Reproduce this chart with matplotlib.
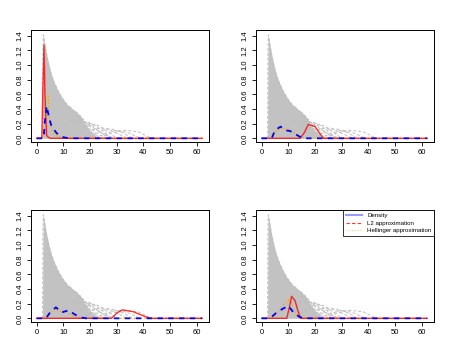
import matplotlib.pyplot as plt
from matplotlib.lines import Line2D

plt.rcParams["font.family"] = ["Liberation Sans", "DejaVu Sans"]

# gray family of basis densities (same in every panel)
env_x = [2.2, 2.35, 2.5, 2.8, 3.2, 3.75, 4.7, 5.5, 6.5, 8.0, 9.4, 11.0, 12.5, 14.5, 16.2, 18.0, 20.0, 22.0, 24.0]
env_y = [0.0, 1.25, 1.41, 1.34, 1.25, 1.14, 0.98, 0.87, 0.77, 0.65, 0.56, 0.48, 0.42, 0.36, 0.31, 0.20, 0.10, 0.03, 0.0]

tail_x = [
    [12.5, 17.0, 21.0, 24.0],
    [14.5, 18.0, 22.0, 26.0],
    [12.0, 16.0, 20.0, 23.0, 27.0],
    [14.0, 18.0, 21.5, 25.0, 28.0],
    [16.0, 20.0, 23.5, 27.0, 30.0],
    [15.0, 19.0, 24.0, 29.0],
    [18.0, 22.0, 26.0, 30.0, 34.0],
    [20.0, 24.0, 28.0, 32.0, 36.0],
    [22.0, 26.0, 30.0, 34.0, 39.0],
    [24.0, 28.0, 33.0, 38.0, 43.0],
]
tail_y = [
    [0.43, 0.26, 0.08, 0.0],
    [0.37, 0.24, 0.08, 0.0],
    [0.24, 0.23, 0.21, 0.10, 0.0],
    [0.20, 0.22, 0.19, 0.09, 0.0],
    [0.10, 0.20, 0.17, 0.08, 0.0],
    [0.30, 0.20, 0.08, 0.0],
    [0.02, 0.13, 0.14, 0.07, 0.0],
    [0.0, 0.11, 0.13, 0.08, 0.0],
    [0.0, 0.07, 0.11, 0.08, 0.0],
    [0.0, 0.07, 0.11, 0.09, 0.0],
]

# density (blue), L2 (red), Hellinger (orange) for each panel
blue_x = [
    [0, 2.6, 3.0, 3.75, 4.7, 5.6, 7.5, 9.4, 12.0, 62],
    [0, 3.75, 5.0, 7.1, 8.7, 10.6, 12.5, 14.4, 16.2, 62],
    [0, 3.5, 5.0, 7.2, 9.4, 11.9, 14.4, 16.9, 18.5, 62],
    [0, 2.5, 3.75, 5.6, 7.9, 10.0, 11.9, 14.1, 16.0, 62],
]
blue_y = [
    [0, 0, 0.20, 0.44, 0.27, 0.16, 0.07, 0.02, 0, 0],
    [0, 0, 0.11, 0.16, 0.11, 0.10, 0.06, 0.02, 0, 0],
    [0, 0, 0.08, 0.15, 0.08, 0.11, 0.05, 0.01, 0, 0],
    [0, 0, 0.02, 0.08, 0.13, 0.17, 0.08, 0.02, 0, 0],
]
red_x = [
    [0, 1.9, 2.3, 2.7, 3.1, 3.7, 4.5, 5.2, 62],
    [0, 14.4, 16.0, 17.5, 20.0, 21.5, 23.1, 62],
    [0, 28.0, 30.0, 32.0, 36.2, 39.5, 42.5, 62],
    [0, 9.4, 10.3, 11.2, 12.5, 13.6, 14.6, 62],
]
red_y = [
    [0, 0, 0.65, 1.27, 0.60, 0.04, 0.01, 0, 0],
    [0, 0, 0.08, 0.19, 0.16, 0.08, 0, 0],
    [0, 0, 0.07, 0.115, 0.09, 0.04, 0, 0],
    [0, 0, 0.14, 0.30, 0.24, 0.10, 0, 0],
]
orange_x = [
    [0, 2.0, 2.6, 3.5, 4.3, 4.7, 5.5, 7.0, 9.0, 11.0, 62],
    [0, 4.0, 5.0, 7.0, 9.0, 11.0, 13.0, 15.0, 17.0, 62],
    [0, 3.5, 5.0, 7.0, 9.0, 11.0, 13.0, 15.0, 17.0, 62],
    [0, 4.0, 6.0, 8.0, 10.0, 11.0, 12.0, 13.0, 15.0, 62],
]
orange_y = [
    [0, 0, 0.30, 0.55, 0.58, 0.30, 0.12, 0.04, 0.01, 0, 0],
    [0, 0, 0.08, 0.14, 0.13, 0.11, 0.05, 0.01, 0, 0],
    [0, 0, 0.07, 0.13, 0.09, 0.10, 0.04, 0.01, 0, 0],
    [0, 0, 0.08, 0.18, 0.25, 0.22, 0.12, 0.05, 0, 0],
]

x_ticks = [0, 10, 20, 30, 40, 50, 60]
y_ticks = [0.0, 0.2, 0.4, 0.6, 0.8, 1.0, 1.2, 1.4]

GRAY = "#bebebe"

fig = plt.figure(figsize=(4.5, 3.6), dpi=100)
positions = [
    [0.0682, 0.6064, 0.3969, 0.3094],
    [0.5682, 0.6064, 0.3969, 0.3094],
    [0.0682, 0.1064, 0.3969, 0.3094],
    [0.5682, 0.1064, 0.3969, 0.3094],
]

for i, pos in enumerate(positions):
    ax = fig.add_axes(pos)
    ax.fill_between(env_x, env_y, 0, color="#c2c2c2", linewidth=0)
    ax.plot(env_x, env_y, color=GRAY, linestyle=(0, (3, 2)), linewidth=0.7)
    for tx, ty in zip(tail_x, tail_y):
        ax.plot(tx, ty, color=GRAY, linestyle=(0, (3, 2)), linewidth=0.7)

    ax.plot(orange_x[i], orange_y[i], color="orange", linestyle=(0, (1, 1.5)), linewidth=1.0)
    ax.plot(red_x[i], red_y[i], color="red", alpha=0.8, linewidth=1.0)
    ax.plot(blue_x[i], blue_y[i], color="blue", linestyle=(0, (3, 3)), linewidth=1.3)

    ax.set_xlim(-2.25, 64.7)
    ax.set_ylim(-0.046, 1.473)
    ax.set_xticks(x_ticks)
    ax.set_yticks(y_ticks)
    ax.set_xticklabels([str(t) for t in x_ticks])
    ax.set_yticklabels([f"{t:.1f}" for t in y_ticks], rotation=90, va="center")
    ax.tick_params(direction="out", length=3, width=0.6, labelsize=5.5, pad=2)
    for s in ax.spines.values():
        s.set_linewidth(0.7)

    if i == 3:
        handles = [
            Line2D([], [], color="blue", alpha=0.4, linewidth=1.5),
            Line2D([], [], color="red", alpha=0.8, linestyle=(0, (3, 2)), linewidth=0.8),
            Line2D([], [], color="orange", alpha=0.5, linestyle=(0, (1, 1.5)), linewidth=0.8),
        ]
        leg = ax.legend(handles, ["Density", "L2 approximation", "Hellinger approximation"],
                        loc="upper right", fontsize=4.4, frameon=True, fancybox=False,
                        borderaxespad=0, handlelength=2.6, labelspacing=0.35,
                        borderpad=0.45, handletextpad=0.9)
        leg.get_frame().set_edgecolor("black")
        leg.get_frame().set_linewidth(0.7)

fig.savefig("out.png", dpi=100)
